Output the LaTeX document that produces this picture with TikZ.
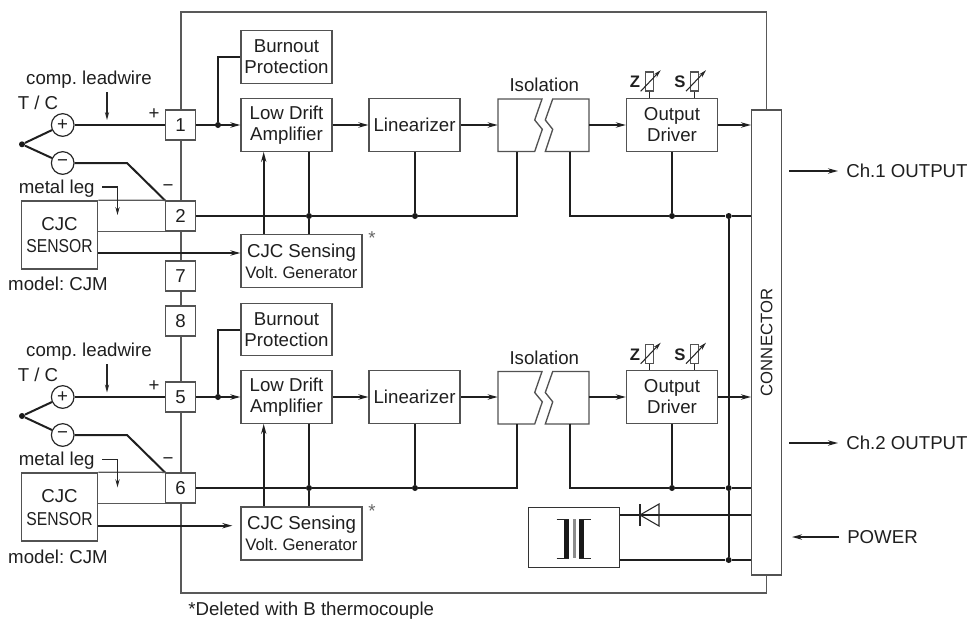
\documentclass[tikz,border=0pt]{standalone}
\usepackage{fontspec}
\setmainfont{Liberation Sans}
\newfontfamily\narrowfont[FakeStretch=0.84]{Liberation Sans}
\usetikzlibrary{arrows.meta}
\begin{document}
\frenchspacing
\begin{tikzpicture}[x=0.75pt, y=-0.75pt, >={Stealth[length=7.5pt,width=4pt,inset=2.5pt]},
  every node/.style={font=\fontsize{14}{15.75}\selectfont, text=black!88, align=center, inner sep=0pt},
  blk/.style={draw=black!68, line width=1pt, fill=white, minimum width=68.25pt, minimum height=39.4pt},
  csbox/.style={blk, minimum width=90.75pt, minimum height=39.75pt},
  isonode/.style={minimum width=27.75pt, minimum height=39.4pt},
  term/.style={draw=black!68, line width=1pt, fill=white, minimum size=22.5pt},
  pol/.style={draw=black!85, line width=0.9pt, fill=white, circle, minimum size=17pt},
  jn/.style={fill=black!90, circle, minimum size=4.5pt},
  res/.style={draw=black!68, line width=0.8pt, fill=white, minimum width=6pt, minimum height=14.25pt},
  wire/.style={draw=black!88, line width=1.5pt},
  frm/.style={draw=black!65, line width=1pt},
  thinw/.style={draw=black!85, line width=0.8pt, >={Stealth[length=6pt,width=3.2pt,inset=2pt]}},
  small/.style={font=\fontsize{12.5}{15}\selectfont}]
\useasboundingbox (0,0) rectangle (971,621);
% connector strip and outer frame
\node[blk, minimum width=22.5pt, minimum height=348.75pt, small] (conn) at (766.7,342.5) {\rotatebox{90}{CONNECTOR}};
\draw[frm] (conn.north) |- (181,12) -- (181,593) -| (conn.south);

% terminals
\node[term] (t1) at (180.6,125) {1};
\node[term] (t2) at (180.6,216) {2};
\node[term] (t7) at (180.6,276) {7};
\node[term] (t8) at (180.6,321) {8};
\node[term] (t5) at (180.6,397) {5};
\node[term] (t6) at (180.6,488) {6};

% channel 1
\node[blk] (bo1) at (286.5,57) {Burnout\\Protection};
\node[blk] (amp1) at (286.5,125) {Low Drift\\Amplifier};
\node[blk] (lin1) at (414.6,125) {Linearizer};
\node[isonode] (iso1a) at (516.5,125) {};
\node[isonode] (iso1b) at (570.5,125) {};
\node[blk] (drv1) at (672,125) {Output\\Driver};
\node[csbox] (cs1) at (301.5,261) {CJC Sensing\\{\fontsize{12.5}{15}\selectfont Volt. Generator}};
\node[blk, minimum width=57pt, minimum height=51.2pt] (sens1) at (59.7,235) {};
\node (cjc1) at (59.5,224) {CJC};
\node[font=\fontsize{14}{15}\narrowfont] (sn1) at (59.5,246.5) {SENSOR};
\node[res] (rz1) at (649.3,81.5) {};
\node[res] (rs1) at (694.8,81.5) {};
\node[font=\fontsize{12.5}{15}\selectfont\bfseries] (zl1) at (635,82) {Z};
\node[font=\fontsize{12.5}{15}\selectfont\bfseries] (sl1) at (680,82) {S};
\node (isol1) at (544.3,85) {Isolation};
\node (lw1) at (89,80) {comp. leadwire};
\node (tcl1) at (38,103) {T / C};
\node (pl1) at (154,114) {+};
\node (ml1) at (168,188) {−};
\node (leg1) at (56.7,189) {metal leg};
\node (mod1) at (58,284) {model: CJM};
\node[text=black!60] (ast1) at (372,238) {*};
\node[pol] (cp1) at (62.7,125) {+};
\node[pol] (cm1) at (62.7,163) {−};
\node[jn] (tc1) at (22,144.3) {};
\node[jn] (j1) at (218,125) {};
\node[jn] (g1a) at (309,216) {};
\node[jn] (g1b) at (415,216) {};
\node[jn] (g1c) at (672,216) {};
\node[jn] (g1d) at (728.7,216) {};
\coordinate (bend1) at (127,163);
\coordinate (s1) at (263.7,216);
\coordinate (e1a) at (517,216);
\coordinate (e1b) at (570,216);
\coordinate (lwa1) at (107,92);
\coordinate (lwb1) at (107,120);
\coordinate (lega1) at (102,187);
\coordinate (legb1) at (117.5,215);
\coordinate (sy1) at (0,253);

\draw[draw=black!68, line width=1pt, fill=white] (498,99) -- (542,99) -- (534.7,120) -- (542.3,129.3) -- (534.7,151.5) -- (498,151.5) -- cycle;
\draw[draw=black!68, line width=1pt, fill=white] (589,99) -- (552.7,99) -- (545.3,120) -- (552.7,129.3) -- (545.3,151.5) -- (589,151.5) -- cycle;
\draw[wire] (tc1) -- (cp1);
\draw[wire] (tc1) -- (cm1);
\draw[wire] (cp1) -- (t1);
\draw[wire] (cm1) -- (bend1) -- (t2.north west);
\draw[frm] (sens1.north east) -- (t2.north west);
\draw[frm] (t2.south west -| sens1.east) -- (t2.south west);
\draw[wire, ->] (t1) -- (amp1);
\draw[wire] (j1) |- (bo1);
\draw[wire, ->] (amp1) -- (lin1);
\draw[wire, ->] (lin1) -- (iso1a);
\draw[wire, ->] (iso1b) -- (drv1);
\draw[wire, ->] (drv1) -- (conn.west |- drv1);
\draw[wire] (t2) -- (g1a) -- (g1b) -- (e1a) -- (iso1a.south -| e1a);
\draw[wire] (iso1b.south -| e1b) -- (e1b) -- (g1c) -- (g1d) -- (conn.west |- g1d);
\draw[wire] (amp1.south -| g1a) -- (g1a) -- (cs1.north -| g1a);
\draw[wire] (lin1.south -| g1b) -- (g1b);
\draw[wire] (drv1) -- (g1c);
\draw[wire, ->] (cs1.north -| s1) -- (amp1.south -| s1);
\draw[wire, ->] (sens1.east |- sy1) -- (cs1.west |- sy1);
\draw[thinw] (rz1) -- (drv1.north -| rz1);
\draw[thinw] (rs1) -- (drv1.north -| rs1);
\draw[thinw, ->] ([shift={(-8.6,-0.3)}]rz1.south) -- ([shift={(11.4,-1.3)}]rz1.north);
\draw[thinw, ->] ([shift={(-8.8,-0.3)}]rs1.south) -- ([shift={(11.2,-1.3)}]rs1.north);
\draw[thinw, ->] (lwa1) -- (lwb1);
\draw[thinw, ->] (lega1) -| (legb1);

% channel 2
\node[blk] (bo2) at (286.5,329.5) {Burnout\\Protection};
\node[blk] (amp2) at (286.5,397) {Low Drift\\Amplifier};
\node[blk] (lin2) at (414.6,397) {Linearizer};
\node[isonode] (iso2a) at (516.5,397) {};
\node[isonode] (iso2b) at (570.5,397) {};
\node[blk] (drv2) at (672,397) {Output\\Driver};
\node[csbox] (cs2) at (301.5,533.5) {CJC Sensing\\{\fontsize{12.5}{15}\selectfont Volt. Generator}};
\node[blk, minimum width=57pt, minimum height=51.2pt] (sens2) at (59.7,507) {};
\node (cjc2) at (59.5,496.5) {CJC};
\node[font=\fontsize{14}{15}\narrowfont] (sn2) at (59.5,519) {SENSOR};
\node[res] (rz2) at (649.3,354) {};
\node[res] (rs2) at (694.8,354) {};
\node[font=\fontsize{12.5}{15}\selectfont\bfseries] (zl2) at (635,354.5) {Z};
\node[font=\fontsize{12.5}{15}\selectfont\bfseries] (sl2) at (680,354.5) {S};
\node (isol2) at (544.3,357.5) {Isolation};
\node (lw2) at (89,352) {comp. leadwire};
\node (tcl2) at (38,375) {T / C};
\node (pl2) at (154,386.5) {+};
\node (ml2) at (168,461.5) {−};
\node (leg2) at (56.7,461) {metal leg};
\node (mod2) at (58,556.7) {model: CJM};
\node[text=black!60] (ast2) at (372,511) {*};
\node[pol] (cp2) at (62.7,397) {+};
\node[pol] (cm2) at (62.7,435) {−};
\node[jn] (tc2) at (22,416) {};
\node[jn] (j2) at (218,397) {};
\node[jn] (g2a) at (309,488) {};
\node[jn] (g2b) at (415,488) {};
\node[jn] (g2c) at (672,488) {};
\node[jn] (g2d) at (728.7,488) {};
\coordinate (bend2) at (127,435);
\coordinate (s2) at (263.7,488);
\coordinate (e2a) at (517,488);
\coordinate (e2b) at (570,488);
\coordinate (lwa2) at (107,364);
\coordinate (lwb2) at (107,392.5);
\coordinate (lega2) at (102,459.3);
\coordinate (legb2) at (117.5,487.3);
\coordinate (sy2) at (0,525.7);

\draw[draw=black!68, line width=1pt, fill=white] (498,371.5) -- (542,371.5) -- (534.7,392.5) -- (542.3,401.8) -- (534.7,424) -- (498,424) -- cycle;
\draw[draw=black!68, line width=1pt, fill=white] (589,371.5) -- (552.7,371.5) -- (545.3,392.5) -- (552.7,401.8) -- (545.3,424) -- (589,424) -- cycle;
\draw[wire] (tc2) -- (cp2);
\draw[wire] (tc2) -- (cm2);
\draw[wire] (cp2) -- (t5);
\draw[wire] (cm2) -- (bend2) -- (t6.north west);
\draw[frm] (sens2.north east) -- (t6.north west);
\draw[frm] (t6.south west -| sens2.east) -- (t6.south west);
\draw[wire, ->] (t5) -- (amp2);
\draw[wire] (j2) |- (bo2);
\draw[wire, ->] (amp2) -- (lin2);
\draw[wire, ->] (lin2) -- (iso2a);
\draw[wire, ->] (iso2b) -- (drv2);
\draw[wire, ->] (drv2) -- (conn.west |- drv2);
\draw[wire] (t6) -- (g2a) -- (g2b) -- (e2a) -- (iso2a.south -| e2a);
\draw[wire] (iso2b.south -| e2b) -- (e2b) -- (g2c) -- (g2d) -- (conn.west |- g2d);
\draw[wire] (amp2.south -| g2a) -- (g2a) -- (cs2.north -| g2a);
\draw[wire] (lin2.south -| g2b) -- (g2b);
\draw[wire] (drv2) -- (g2c);
\draw[wire, ->] (cs2.north -| s2) -- (amp2.south -| s2);
\draw[wire, ->] (sens2.east |- sy2) -- ([xshift=-6pt]cs2.west |- sy2);
\draw[thinw] (rz2) -- (drv2.north -| rz2);
\draw[thinw] (rs2) -- (drv2.north -| rs2);
\draw[thinw, ->] ([shift={(-8.6,-0.3)}]rz2.south) -- ([shift={(11.4,-1.3)}]rz2.north);
\draw[thinw, ->] ([shift={(-8.8,-0.3)}]rs2.south) -- ([shift={(11.2,-1.3)}]rs2.north);
\draw[thinw, ->] (lwa2) -- (lwb2);
\draw[thinw, ->] (lega2) -| (legb2);

% power supply
\node[blk, draw=black!80, minimum width=68.25pt, minimum height=45.3pt] (tr) at (573.8,537.5) {};
\node[jn] (gp) at (728.7,560) {};
\coordinate (dio) at (640,515);
\draw[wire] (conn.west |- dio) -- (tr.east |- dio);
\draw[wire] (conn.west |- gp) -- (gp) -- (tr.east |- gp);
\draw[wire] (g1d) -- (g2d) -- (gp);
\draw[thinw] ([yshift=8.25pt]dio) -- ([yshift=-8.25pt]dio);
\draw[thinw] (dio) -- ([shift={(19,-11)}]dio) -- ([shift={(19,11)}]dio) -- cycle;
\fill[black!90] (563.7,519.3) rectangle (569,558.3);
\fill[black!90] (579,519.3) rectangle (584.3,558.3);
\fill[black!45] (573,519.3) rectangle (575.5,558.3);
\draw[thinw] (556.7,519.3) -- (569,519.3);
\draw[thinw] (556.7,558.3) -- (569,558.3);
\draw[thinw] (579,519.3) -- (591,519.3);
\draw[thinw] (579,558.3) -- (591,558.3);

% outputs and notes
\coordinate (c1s) at (789.3,171);
\coordinate (c2s) at (789.3,443);
\coordinate (pws) at (792,537);
\node[anchor=west, inner xsep=6pt] (c1o) at (838,171) {Ch.1 OUTPUT};
\node[anchor=west, inner xsep=6pt] (c2o) at (838,443) {Ch.2 OUTPUT};
\node[anchor=west, inner xsep=6pt] (pw) at (839,537) {POWER};
\draw[wire, ->, line width=1.2pt] (c1s) -- (c1o);
\draw[wire, ->, line width=1.2pt] (c2s) -- (c2o);
\draw[wire, ->, line width=1.2pt] (pw) -- (pws);
\node[anchor=west] (note) at (188,611) {*Deleted with B thermocouple};
\end{tikzpicture}
\end{document}
